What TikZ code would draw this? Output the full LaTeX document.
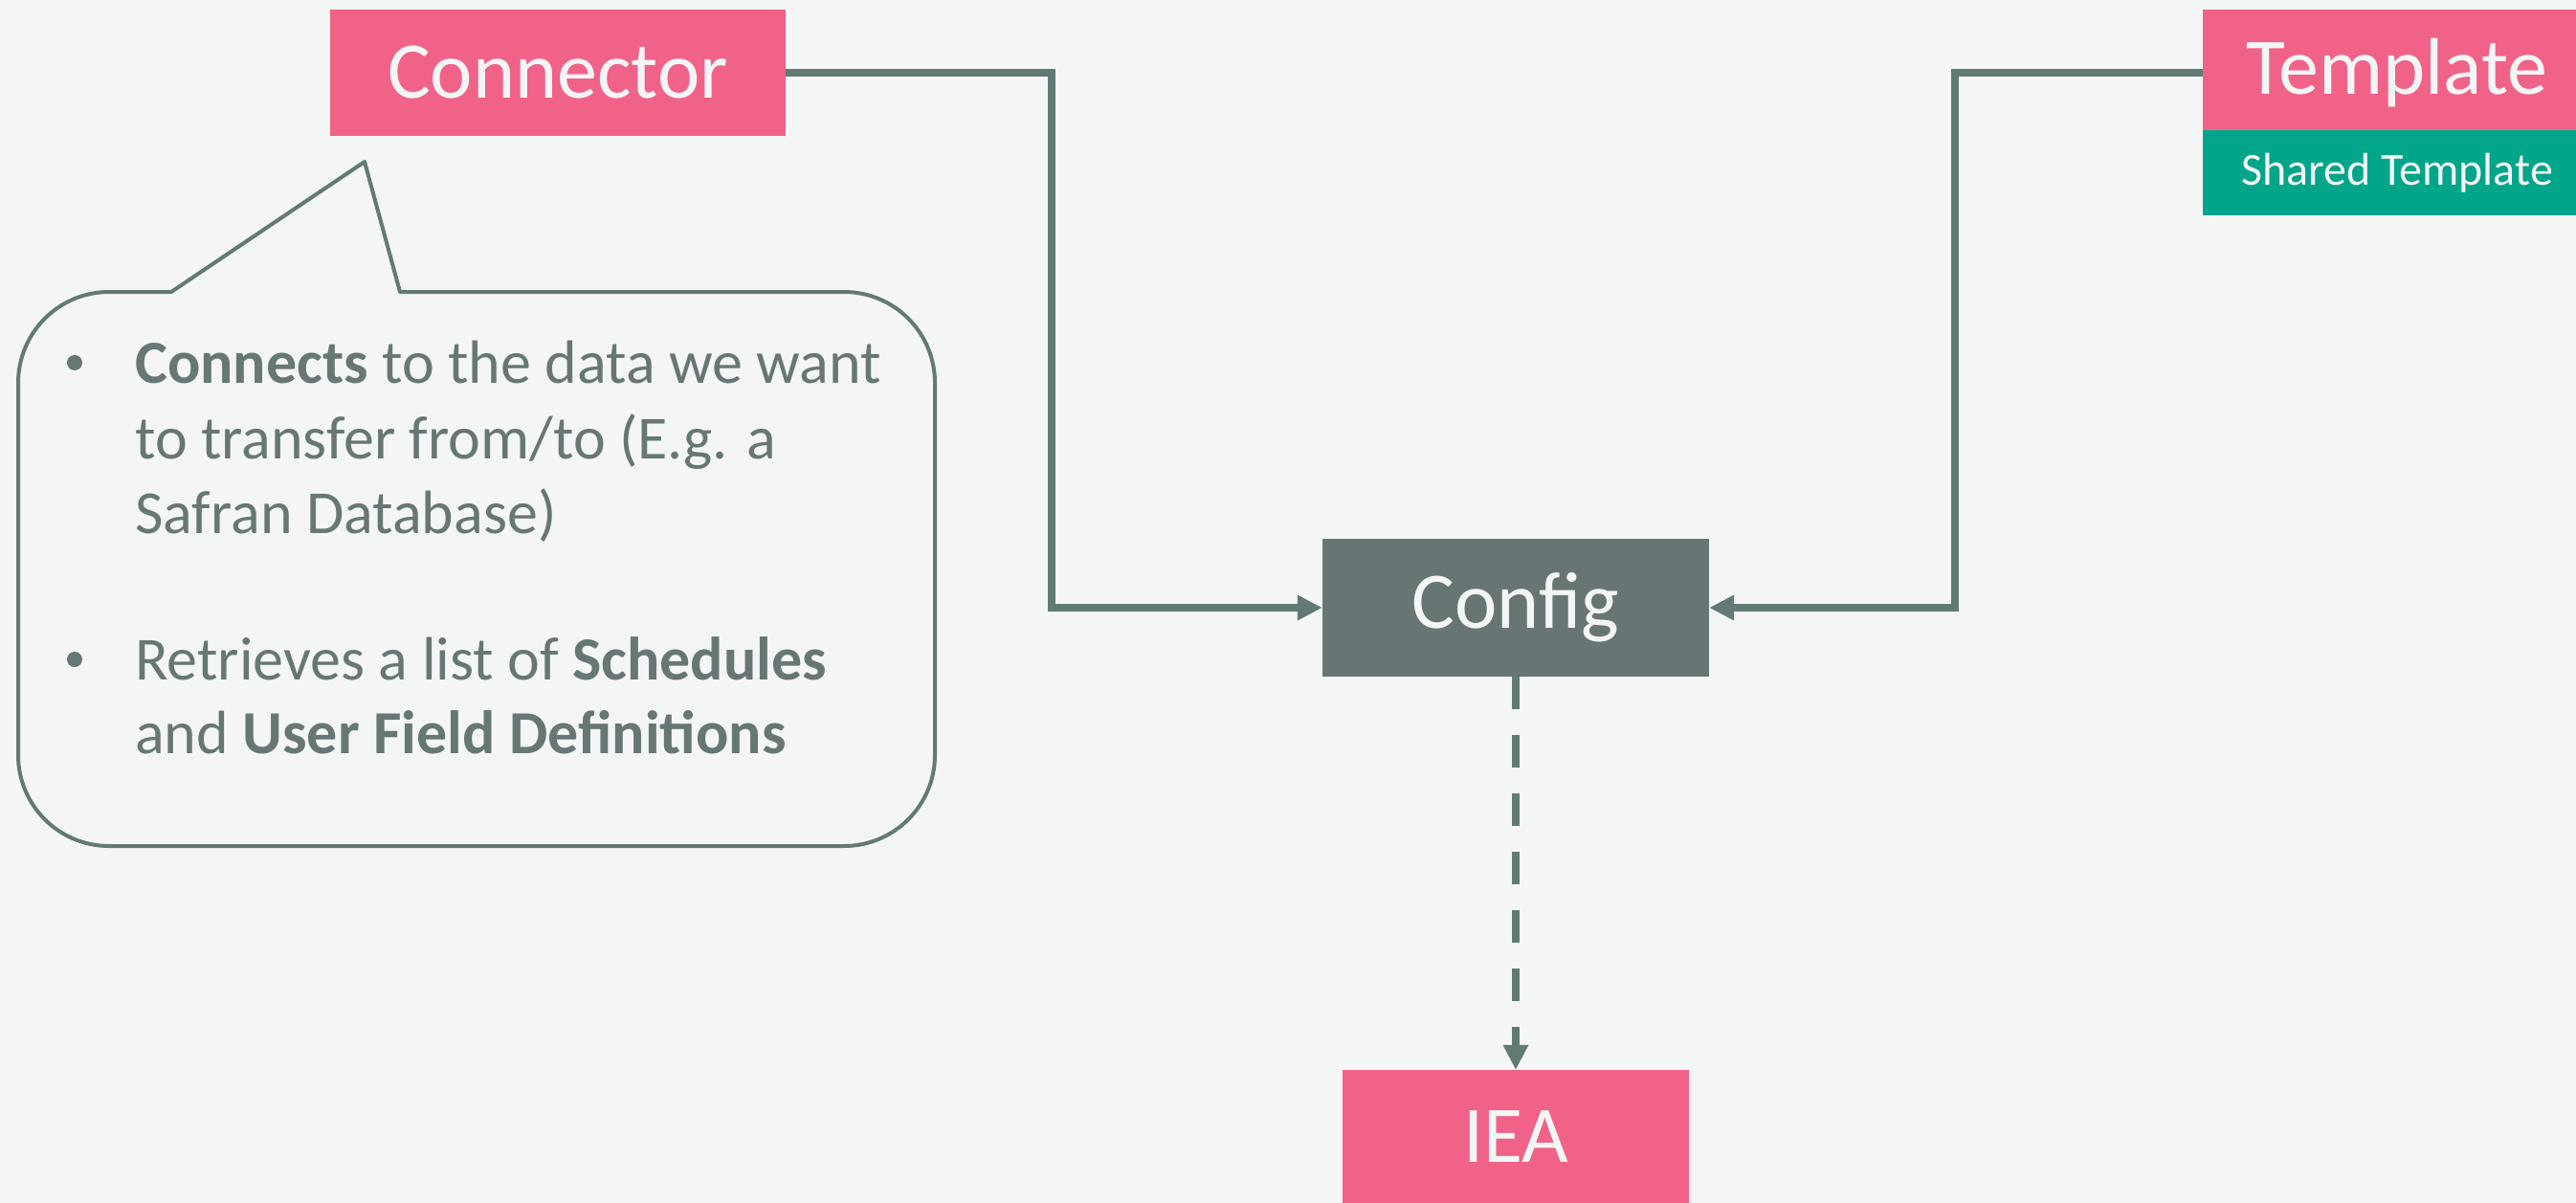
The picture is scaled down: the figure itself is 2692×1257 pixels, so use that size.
\documentclass[tikz,border=0pt]{standalone}
\usepackage{fontspec}
\setmainfont{Carlito}
\usetikzlibrary{arrows.meta}
\definecolor{bgc}{HTML}{F4F6F5}
\definecolor{pinkc}{HTML}{F16288}
\definecolor{tealc}{HTML}{00A58A}
\definecolor{grayc}{HTML}{677674}
\definecolor{linec}{HTML}{627A75}
\definecolor{textc}{HTML}{667775}
\tikzset{
  box/.style={rectangle, inner sep=0pt, text=bgc, font=\fontsize{84}{100}\selectfont},
  pinkbox/.style={box, fill=pinkc},
  graybox/.style={box, fill=grayc},
  flow/.style={draw=linec, line width=8pt, -{Triangle[length=26pt,width=25pt]}},
  bubble/.style={draw=linec, line width=4pt, line join=round},
  btext/.style={anchor=base west, inner sep=0pt, text=textc, font=\fontsize{64}{79}\selectfont},
  dot/.style={circle, fill=textc, inner sep=0pt, minimum size=16pt}
}
\begin{document}
\begin{tikzpicture}[x=1pt,y=1pt]
\fill[bgc] (0,0) rectangle (2692,-1257);
\useasboundingbox (0,0) rectangle (2692,-1257);

\node[pinkbox, minimum width=476pt, minimum height=132pt] (conn) at (583,-76) {Connector};
\node[pinkbox, minimum width=406pt, minimum height=132pt] (tmpl) at (2505,-76) {Template};
\node[box, fill=tealc, minimum width=406pt, minimum height=89pt, font=\fontsize{48}{58}\selectfont] (shared) at (2505,-180.5) {Shared Template};
\node[graybox, minimum width=404pt, minimum height=144pt] (config) at (1584,-635) {Config};
\node[pinkbox, minimum width=362pt, minimum height=139pt] (iea) at (1584,-1187.5) {IEA};

\coordinate (j1) at (1099,-76);
\coordinate (j2) at (2043,-76);
\draw[flow] (conn.east) -- (j1) |- (config.west);
\draw[flow] (tmpl.west) -- (j2) |- (config.east);
\draw[flow, dash pattern=on 34pt off 27pt] (config.south) -- (iea.north);

\draw[bubble] (179,-305) -- (381,-169) -- (418,-305) -- (882,-305)
  arc[start angle=90,end angle=0,radius=95] -- (977,-789)
  arc[start angle=0,end angle=-90,radius=95] -- (114,-884)
  arc[start angle=270,end angle=180,radius=95] -- (19,-400)
  arc[start angle=180,end angle=90,radius=95] -- cycle;

\node[dot] (b1) at (78,-379) {};
\node[dot] (b2) at (78,-689) {};
\node[btext] (l1) at (141,-400) {\textbf{Connects} to the data we want};
\node[btext] (l2) at (141,-479) {to transfer from/to (E.g. a};
\node[btext] (l3) at (141,-557) {Safran Database)};
\node[btext] (l4) at (141,-710) {Retrieves a list of \textbf{Schedules}};
\node[btext] (l5) at (141,-787) {and \textbf{User Field Definitions}};
\end{tikzpicture}
\end{document}
